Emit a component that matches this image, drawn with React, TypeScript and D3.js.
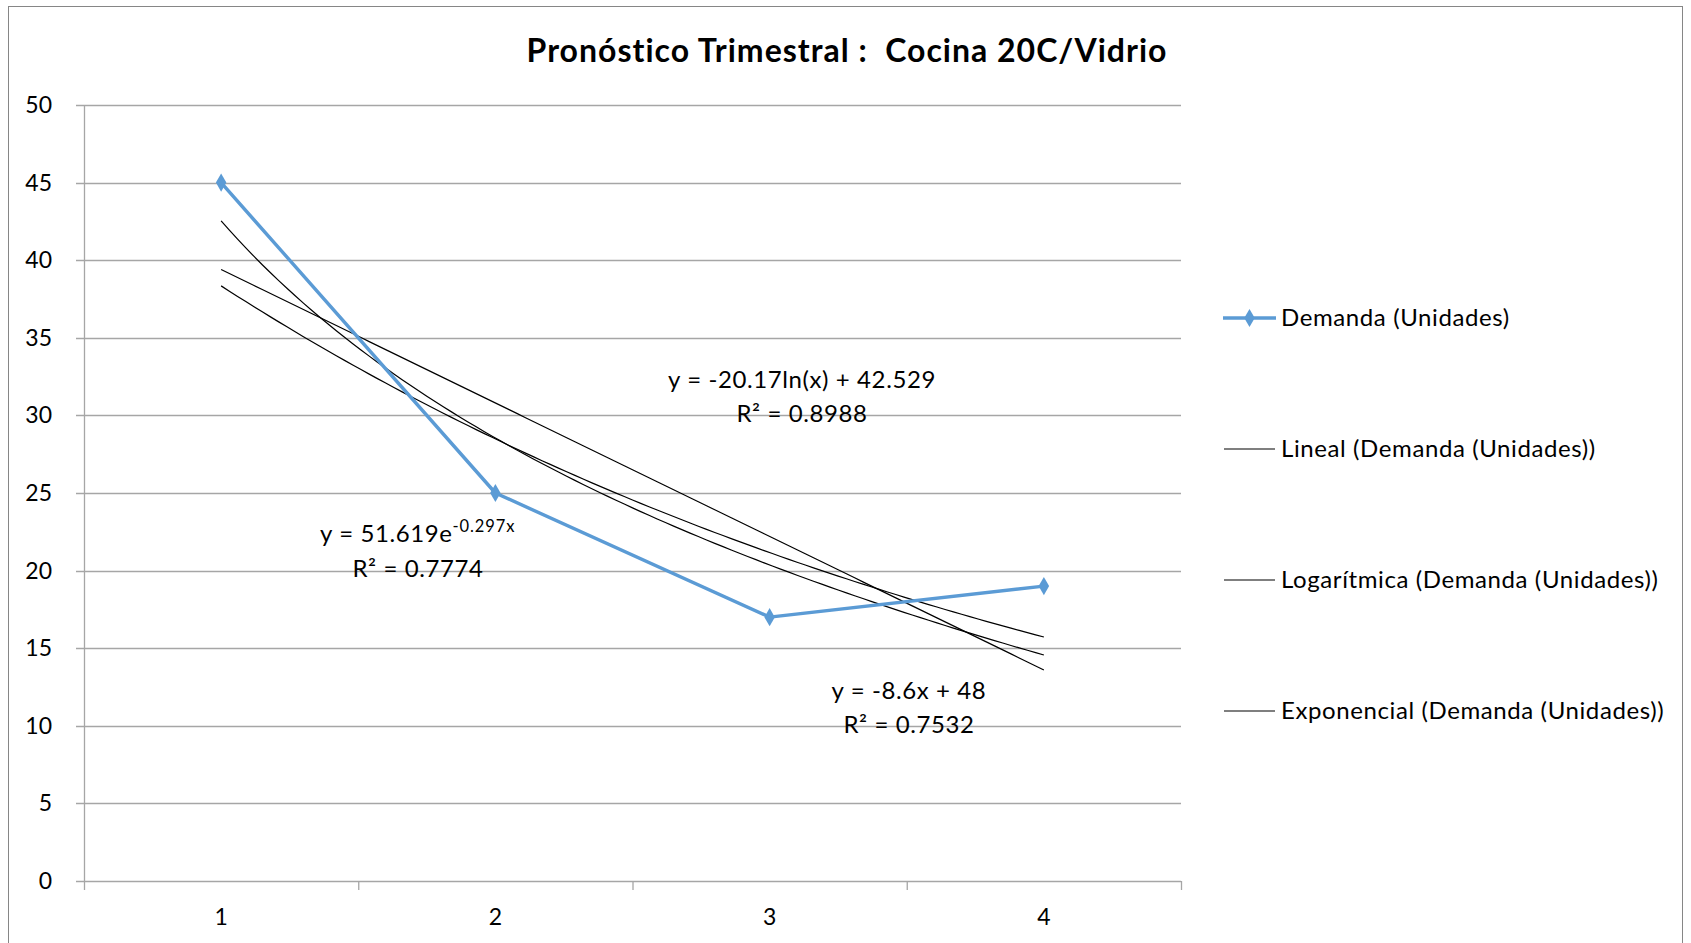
import React from "react";
import * as d3 from "d3";

const categories = ["1", "2", "3", "4"];
const demanda = [45, 25, 17, 19];
const yTicks = [0, 5, 10, 15, 20, 25, 30, 35, 40, 45, 50];
const legendLabels = [
  "Demanda (Unidades)",
  "Lineal (Demanda (Unidades))",
  "Logarítmica (Demanda (Unidades))",
  "Exponencial (Demanda (Unidades))",
];
const title = "Pronóstico Trimestral :  Cocina 20C/Vidrio";

const W = 1691;
const H = 943;
const FONT = "Lato, 'Open Sans', sans-serif";

function fitLinear(xs: number[], ys: number[]) {
  const mx = d3.mean(xs)!;
  const my = d3.mean(ys)!;
  let sxy = 0, sxx = 0;
  xs.forEach((x, i) => { sxy += (x - mx) * (ys[i] - my); sxx += (x - mx) ** 2; });
  const b = sxy / sxx;
  const a = my - b * mx;
  return { a, b };
}

export default function App() {
  const left = 84, right = 1181, top = 105, bottom = 881;
  const xBand = d3.scaleBand().domain(categories).range([left, right]).padding(0);
  const bw = xBand.bandwidth();
  const xNum = d3.scaleLinear().domain([0.5, categories.length + 0.5]).range([left, right]);
  const y = d3.scaleLinear().domain([0, 50]).range([bottom, top]);

  const xs = categories.map((_, i) => i + 1);
  const lin = fitLinear(xs, demanda);
  const lg = fitLinear(xs.map(Math.log), demanda);
  const ex = fitLinear(xs, demanda.map(Math.log));

  const sample = d3.range(0, 101).map((i) => 1 + (i / 100) * (xs.length - 1));
  const lineGen = d3.line<[number, number]>().x((d) => xNum(d[0])).y((d) => y(d[1]));
  const linPath = lineGen(sample.map((x) => [x, lin.a + lin.b * x]));
  const logPath = lineGen(sample.map((x) => [x, lg.a + lg.b * Math.log(x)]));
  const expPath = lineGen(sample.map((x) => [x, Math.exp(ex.a) * Math.exp(ex.b * x)]));
  const dataPath = lineGen(demanda.map((v, i) => [i + 1, v]));

  const diamond = d3.symbol().type(d3.symbolDiamond).size(95)();
  const blue = "#5B9BD5";
  const grid = "#A6A6A6";
  const fs = 24;
  const axFs = 23;
  const ls = 0.6;

  const legendY = [318, 449, 580, 711];

  return (
    <svg width={W} height={H} style={{ position: "absolute", left: 0, top: 0, background: "#fff" }} fontFamily={FONT}>
      <rect x={8.5} y={6.5} width={1674} height={960} fill="#fff" stroke="#868686" strokeWidth={1} />
      <text x={847} y={62} textAnchor="middle" fontSize={32} fontWeight="bold" letterSpacing={1} style={{ whiteSpace: "pre" }}>
        {title}
      </text>
      {yTicks.map((t) => (
        <g key={t}>
          <line x1={left - 8} x2={right} y1={Math.round(y(t)) + 0.5} y2={Math.round(y(t)) + 0.5} stroke={grid} strokeWidth={1.3} />
          <text x={52} y={y(t) + 8} textAnchor="end" fontSize={axFs}>{t}</text>
        </g>
      ))}
      <line x1={left + 0.5} x2={left + 0.5} y1={top} y2={bottom} stroke={grid} strokeWidth={1.3} />
      {[...categories.map((c) => xBand(c)!), right].map((xv, i) => (
        <line key={i} x1={xv + 0.5} x2={xv + 0.5} y1={bottom} y2={bottom + 9} stroke={grid} strokeWidth={1.3} />
      ))}
      {categories.map((c) => (
        <text key={c} x={xBand(c)! + bw / 2} y={925} textAnchor="middle" fontSize={axFs}>{c}</text>
      ))}
      <path d={linPath!} fill="none" stroke="#000" strokeWidth={1.2} />
      <path d={logPath!} fill="none" stroke="#000" strokeWidth={1.2} />
      <path d={expPath!} fill="none" stroke="#000" strokeWidth={1.2} />
      <path d={dataPath!} fill="none" stroke={blue} strokeWidth={3.4} strokeLinejoin="round" />
      {demanda.map((v, i) => (
        <path key={i} d={diamond!} transform={`translate(${xNum(i + 1)},${y(v)})`} fill={blue} />
      ))}
      {/* trendline equations */}
      <g fontSize={fs} letterSpacing={ls}>
        <text x={802} y={388} textAnchor="middle">y = -20.17ln(x) + 42.529</text>
        <text x={802} y={422} textAnchor="middle">R² = 0.8988</text>
        <text x={320} y={542}>y = 51.619e<tspan dy={-10} fontSize={16.5} letterSpacing={0.9}>-0.297x</tspan></text>
        <text x={418} y={577} textAnchor="middle">R² = 0.7774</text>
        <text x={909} y={699} textAnchor="middle">y = -8.6x + 48</text>
        <text x={909} y={733} textAnchor="middle">R² = 0.7532</text>
      </g>
      {/* legend */}
      {legendLabels.map((l, i) => (
        <g key={l}>
          {i === 0 ? (
            <>
              <line x1={1223} x2={1276} y1={legendY[i]} y2={legendY[i]} stroke={blue} strokeWidth={3.4} />
              <path d={diamond!} transform={`translate(1249.5,${legendY[i]})`} fill={blue} />
            </>
          ) : (
            <line x1={1224} x2={1275} y1={legendY[i]} y2={legendY[i]} stroke="#000" strokeWidth={1.2} />
          )}
          <text x={1281} y={legendY[i] + 8} fontSize={fs} letterSpacing={ls}>{l}</text>
        </g>
      ))}
    </svg>
  );
}
